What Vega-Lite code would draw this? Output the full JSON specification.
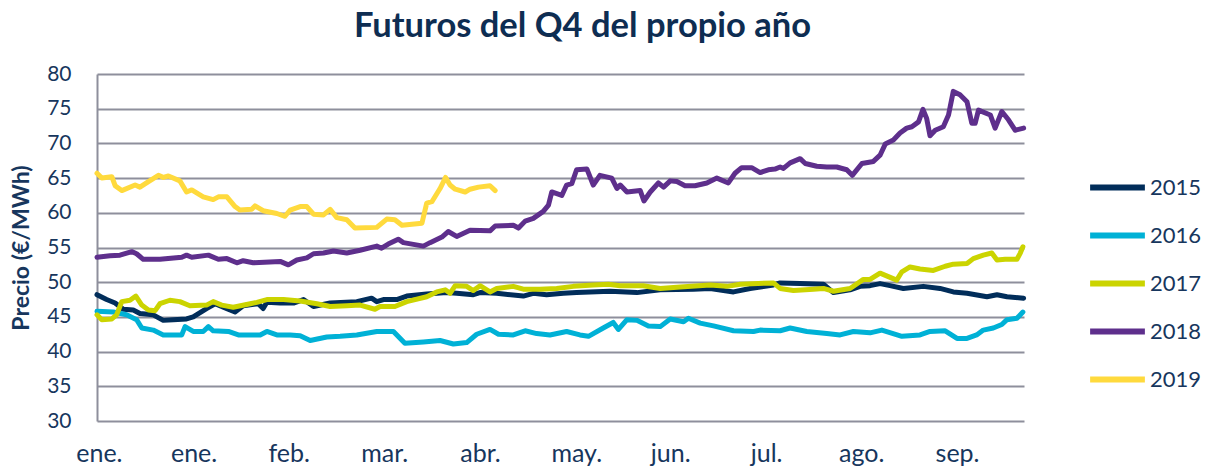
{
  "$schema": "https://vega.github.io/schema/vega-lite/v6.json",
  "autosize": {"type": "none"},
  "padding": {"left": 97, "top": 74, "right": 185, "bottom": 48},
  "width": 927,
  "height": 347,
  "background": "white",
  "title": {"text": "Futuros del Q4 del propio año", "font": "Lato", "fontSize": 34.5, "fontWeight": "bold", "color": "#0E2D52", "anchor": "middle", "offset": 19, "dx": 22},
  "config": {"view": {"stroke": null}},
  "data": {"values": [
    {"year":"2015","t":0,"v":48.2},{"year":"2015","t":2.6,"v":47.5},{"year":"2015","t":4.9,"v":47.0},{"year":"2015","t":7.1,"v":46.1},{"year":"2015","t":9.8,"v":46.0},{"year":"2015","t":11.6,"v":45.5},{"year":"2015","t":15.2,"v":45.3},{"year":"2015","t":17.9,"v":44.5},{"year":"2015","t":20.6,"v":44.6},{"year":"2015","t":24.2,"v":44.7},{"year":"2015","t":26.0,"v":45.0},{"year":"2015","t":29.6,"v":46.2},{"year":"2015","t":31.9,"v":46.9},{"year":"2015","t":35.1,"v":46.2},{"year":"2015","t":37.3,"v":45.7},{"year":"2015","t":39.5,"v":46.6},{"year":"2015","t":43.6,"v":46.9},{"year":"2015","t":44.9,"v":46.2},{"year":"2015","t":45.9,"v":47.1},{"year":"2015","t":49.5,"v":47.0},{"year":"2015","t":53.1,"v":47.0},{"year":"2015","t":55.8,"v":47.5},{"year":"2015","t":58.5,"v":46.5},{"year":"2015","t":63.0,"v":47.0},{"year":"2015","t":70.2,"v":47.2},{"year":"2015","t":74.2,"v":47.7},{"year":"2015","t":75.6,"v":47.2},{"year":"2015","t":77.4,"v":47.5},{"year":"2015","t":81.0,"v":47.5},{"year":"2015","t":83.7,"v":48.0},{"year":"2015","t":89.1,"v":48.3},{"year":"2015","t":94.5,"v":48.5},{"year":"2015","t":97.2,"v":48.4},{"year":"2015","t":101.7,"v":48.2},{"year":"2015","t":103.5,"v":48.5},{"year":"2015","t":108.0,"v":48.4},{"year":"2015","t":115.2,"v":48.0},{"year":"2015","t":117.9,"v":48.4},{"year":"2015","t":121.5,"v":48.2},{"year":"2015","t":126.0,"v":48.4},{"year":"2015","t":129.6,"v":48.5},{"year":"2015","t":138.6,"v":48.7},{"year":"2015","t":145.9,"v":48.5},{"year":"2015","t":152.2,"v":48.9},{"year":"2015","t":161.2,"v":49.0},{"year":"2015","t":165.7,"v":49.1},{"year":"2015","t":172.0,"v":48.6},{"year":"2015","t":176.5,"v":49.1},{"year":"2015","t":182.8,"v":49.6},{"year":"2015","t":184.6,"v":49.9},{"year":"2015","t":190.0,"v":49.8},{"year":"2015","t":196.3,"v":49.7},{"year":"2015","t":199.0,"v":48.5},{"year":"2015","t":203.5,"v":48.9},{"year":"2015","t":206.2,"v":49.4},{"year":"2015","t":208.9,"v":49.5},{"year":"2015","t":211.6,"v":49.8},{"year":"2015","t":214.3,"v":49.5},{"year":"2015","t":217.9,"v":49.1},{"year":"2015","t":223.3,"v":49.4},{"year":"2015","t":227.8,"v":49.1},{"year":"2015","t":231.4,"v":48.6},{"year":"2015","t":235.1,"v":48.4},{"year":"2015","t":240.5,"v":47.9},{"year":"2015","t":243.2,"v":48.2},{"year":"2015","t":245.9,"v":47.9},{"year":"2015","t":250.4,"v":47.7},

    {"year":"2016","t":0,"v":45.8},{"year":"2016","t":4.4,"v":45.7},{"year":"2016","t":8.0,"v":45.3},{"year":"2016","t":10.7,"v":44.6},{"year":"2016","t":12.1,"v":43.4},{"year":"2016","t":15.2,"v":43.1},{"year":"2016","t":17.9,"v":42.4},{"year":"2016","t":22.9,"v":42.4},{"year":"2016","t":23.8,"v":43.6},{"year":"2016","t":26.0,"v":42.9},{"year":"2016","t":28.7,"v":42.9},{"year":"2016","t":30.1,"v":43.6},{"year":"2016","t":31.4,"v":43.0},{"year":"2016","t":35.5,"v":42.9},{"year":"2016","t":38.2,"v":42.4},{"year":"2016","t":44.1,"v":42.4},{"year":"2016","t":45.9,"v":42.9},{"year":"2016","t":48.6,"v":42.4},{"year":"2016","t":52.2,"v":42.4},{"year":"2016","t":54.9,"v":42.3},{"year":"2016","t":57.6,"v":41.6},{"year":"2016","t":62.1,"v":42.1},{"year":"2016","t":65.7,"v":42.2},{"year":"2016","t":70.2,"v":42.4},{"year":"2016","t":75.6,"v":42.9},{"year":"2016","t":80.1,"v":42.9},{"year":"2016","t":83.2,"v":41.2},{"year":"2016","t":88.2,"v":41.4},{"year":"2016","t":92.7,"v":41.6},{"year":"2016","t":96.3,"v":41.1},{"year":"2016","t":99.9,"v":41.3},{"year":"2016","t":102.6,"v":42.5},{"year":"2016","t":106.2,"v":43.2},{"year":"2016","t":108.5,"v":42.5},{"year":"2016","t":112.5,"v":42.4},{"year":"2016","t":115.7,"v":43.0},{"year":"2016","t":118.8,"v":42.6},{"year":"2016","t":122.4,"v":42.4},{"year":"2016","t":126.9,"v":42.9},{"year":"2016","t":130.5,"v":42.4},{"year":"2016","t":132.8,"v":42.2},{"year":"2016","t":136.8,"v":43.4},{"year":"2016","t":139.5,"v":44.2},{"year":"2016","t":140.9,"v":43.2},{"year":"2016","t":143.2,"v":44.6},{"year":"2016","t":145.9,"v":44.5},{"year":"2016","t":149.0,"v":43.7},{"year":"2016","t":152.2,"v":43.6},{"year":"2016","t":154.9,"v":44.7},{"year":"2016","t":158.5,"v":44.3},{"year":"2016","t":159.8,"v":44.8},{"year":"2016","t":163.0,"v":44.1},{"year":"2016","t":166.6,"v":43.7},{"year":"2016","t":172.0,"v":43.0},{"year":"2016","t":177.4,"v":42.9},{"year":"2016","t":179.2,"v":43.1},{"year":"2016","t":184.6,"v":43.0},{"year":"2016","t":187.3,"v":43.4},{"year":"2016","t":191.8,"v":42.9},{"year":"2016","t":197.2,"v":42.6},{"year":"2016","t":200.8,"v":42.4},{"year":"2016","t":204.4,"v":42.9},{"year":"2016","t":208.9,"v":42.7},{"year":"2016","t":212.1,"v":43.1},{"year":"2016","t":217.5,"v":42.2},{"year":"2016","t":222.4,"v":42.4},{"year":"2016","t":225.1,"v":42.9},{"year":"2016","t":229.2,"v":43.0},{"year":"2016","t":232.4,"v":41.9},{"year":"2016","t":235.1,"v":41.9},{"year":"2016","t":237.7,"v":42.4},{"year":"2016","t":239.5,"v":43.1},{"year":"2016","t":242.2,"v":43.4},{"year":"2016","t":244.5,"v":43.9},{"year":"2016","t":245.9,"v":44.6},{"year":"2016","t":248.6,"v":44.8},{"year":"2016","t":250.2,"v":45.7},

    {"year":"2017","t":0,"v":45.3},{"year":"2017","t":1.3,"v":44.6},{"year":"2017","t":4.0,"v":44.7},{"year":"2017","t":5.3,"v":45.3},{"year":"2017","t":6.7,"v":47.2},{"year":"2017","t":8.9,"v":47.4},{"year":"2017","t":10.5,"v":48.0},{"year":"2017","t":12.1,"v":46.7},{"year":"2017","t":13.9,"v":46.0},{"year":"2017","t":15.7,"v":45.9},{"year":"2017","t":17.0,"v":46.9},{"year":"2017","t":19.7,"v":47.4},{"year":"2017","t":22.4,"v":47.2},{"year":"2017","t":25.1,"v":46.6},{"year":"2017","t":29.6,"v":46.7},{"year":"2017","t":31.4,"v":47.2},{"year":"2017","t":33.7,"v":46.7},{"year":"2017","t":36.8,"v":46.4},{"year":"2017","t":41.4,"v":46.9},{"year":"2017","t":43.2,"v":47.1},{"year":"2017","t":45.9,"v":47.5},{"year":"2017","t":50.4,"v":47.5},{"year":"2017","t":54.9,"v":47.3},{"year":"2017","t":59.4,"v":46.9},{"year":"2017","t":63.0,"v":46.5},{"year":"2017","t":67.5,"v":46.6},{"year":"2017","t":71.1,"v":46.7},{"year":"2017","t":75.1,"v":46.1},{"year":"2017","t":76.5,"v":46.5},{"year":"2017","t":80.5,"v":46.5},{"year":"2017","t":83.7,"v":47.2},{"year":"2017","t":89.1,"v":47.9},{"year":"2017","t":91.8,"v":48.6},{"year":"2017","t":94.1,"v":48.9},{"year":"2017","t":95.4,"v":48.4},{"year":"2017","t":96.8,"v":49.5},{"year":"2017","t":99.9,"v":49.4},{"year":"2017","t":101.7,"v":48.8},{"year":"2017","t":103.5,"v":49.5},{"year":"2017","t":106.2,"v":48.6},{"year":"2017","t":108.0,"v":49.1},{"year":"2017","t":112.5,"v":49.4},{"year":"2017","t":115.2,"v":49.0},{"year":"2017","t":119.7,"v":49.0},{"year":"2017","t":124.2,"v":49.1},{"year":"2017","t":128.7,"v":49.4},{"year":"2017","t":134.1,"v":49.6},{"year":"2017","t":138.2,"v":49.7},{"year":"2017","t":141.4,"v":49.5},{"year":"2017","t":147.6,"v":49.5},{"year":"2017","t":152.2,"v":49.1},{"year":"2017","t":157.6,"v":49.3},{"year":"2017","t":165.7,"v":49.6},{"year":"2017","t":170.2,"v":49.4},{"year":"2017","t":173.8,"v":49.7},{"year":"2017","t":182.8,"v":49.9},{"year":"2017","t":184.6,"v":49.1},{"year":"2017","t":188.2,"v":48.8},{"year":"2017","t":193.6,"v":49.0},{"year":"2017","t":196.3,"v":49.1},{"year":"2017","t":199.0,"v":48.7},{"year":"2017","t":203.5,"v":49.1},{"year":"2017","t":207.1,"v":50.4},{"year":"2017","t":208.9,"v":50.4},{"year":"2017","t":211.6,"v":51.3},{"year":"2017","t":216.1,"v":50.3},{"year":"2017","t":217.5,"v":51.5},{"year":"2017","t":219.7,"v":52.2},{"year":"2017","t":222.4,"v":51.9},{"year":"2017","t":226.0,"v":51.7},{"year":"2017","t":229.2,"v":52.3},{"year":"2017","t":231.4,"v":52.6},{"year":"2017","t":235.1,"v":52.7},{"year":"2017","t":236.8,"v":53.4},{"year":"2017","t":239.5,"v":53.9},{"year":"2017","t":241.8,"v":54.2},{"year":"2017","t":243.2,"v":53.2},{"year":"2017","t":245.4,"v":53.3},{"year":"2017","t":248.6,"v":53.3},{"year":"2017","t":249.5,"v":54.2},{"year":"2017","t":250.2,"v":55.1},

    {"year":"2018","t":0,"v":53.6},{"year":"2018","t":3.5,"v":53.8},{"year":"2018","t":6.2,"v":53.9},{"year":"2018","t":9.4,"v":54.4},{"year":"2018","t":10.7,"v":54.1},{"year":"2018","t":12.5,"v":53.3},{"year":"2018","t":17.0,"v":53.3},{"year":"2018","t":22.9,"v":53.6},{"year":"2018","t":24.2,"v":53.9},{"year":"2018","t":25.6,"v":53.6},{"year":"2018","t":30.1,"v":53.9},{"year":"2018","t":32.8,"v":53.3},{"year":"2018","t":35.1,"v":53.4},{"year":"2018","t":37.8,"v":52.8},{"year":"2018","t":39.5,"v":53.1},{"year":"2018","t":42.2,"v":52.8},{"year":"2018","t":49.5,"v":53.0},{"year":"2018","t":51.7,"v":52.5},{"year":"2018","t":54.0,"v":53.2},{"year":"2018","t":56.7,"v":53.5},{"year":"2018","t":58.5,"v":54.1},{"year":"2018","t":61.2,"v":54.2},{"year":"2018","t":63.9,"v":54.5},{"year":"2018","t":67.5,"v":54.2},{"year":"2018","t":71.1,"v":54.6},{"year":"2018","t":75.6,"v":55.2},{"year":"2018","t":76.9,"v":54.9},{"year":"2018","t":78.7,"v":55.5},{"year":"2018","t":81.4,"v":56.2},{"year":"2018","t":82.8,"v":55.7},{"year":"2018","t":88.2,"v":55.2},{"year":"2018","t":90.0,"v":55.7},{"year":"2018","t":93.2,"v":56.5},{"year":"2018","t":94.9,"v":57.3},{"year":"2018","t":97.2,"v":56.6},{"year":"2018","t":100.8,"v":57.5},{"year":"2018","t":106.2,"v":57.4},{"year":"2018","t":107.6,"v":58.1},{"year":"2018","t":112.5,"v":58.2},{"year":"2018","t":113.9,"v":57.8},{"year":"2018","t":115.7,"v":58.8},{"year":"2018","t":117.9,"v":59.2},{"year":"2018","t":120.6,"v":60.2},{"year":"2018","t":122.0,"v":61.1},{"year":"2018","t":122.9,"v":63.0},{"year":"2018","t":125.6,"v":62.5},{"year":"2018","t":126.9,"v":64.0},{"year":"2018","t":128.3,"v":64.2},{"year":"2018","t":129.6,"v":66.2},{"year":"2018","t":132.4,"v":66.3},{"year":"2018","t":134.1,"v":64.0},{"year":"2018","t":135.9,"v":65.4},{"year":"2018","t":139.1,"v":65.0},{"year":"2018","t":140.5,"v":63.5},{"year":"2018","t":141.4,"v":64.0},{"year":"2018","t":143.2,"v":63.0},{"year":"2018","t":146.8,"v":63.2},{"year":"2018","t":147.8,"v":61.7},{"year":"2018","t":149.5,"v":63.0},{"year":"2018","t":151.7,"v":64.3},{"year":"2018","t":153.1,"v":63.7},{"year":"2018","t":154.9,"v":64.6},{"year":"2018","t":156.7,"v":64.5},{"year":"2018","t":158.9,"v":63.9},{"year":"2018","t":161.6,"v":63.9},{"year":"2018","t":164.8,"v":64.3},{"year":"2018","t":167.5,"v":65.0},{"year":"2018","t":170.6,"v":64.3},{"year":"2018","t":172.4,"v":65.7},{"year":"2018","t":174.2,"v":66.5},{"year":"2018","t":176.9,"v":66.5},{"year":"2018","t":179.2,"v":65.8},{"year":"2018","t":181.4,"v":66.2},{"year":"2018","t":183.2,"v":66.3},{"year":"2018","t":184.6,"v":66.6},{"year":"2018","t":185.5,"v":66.4},{"year":"2018","t":187.3,"v":67.2},{"year":"2018","t":190.0,"v":67.8},{"year":"2018","t":191.4,"v":67.1},{"year":"2018","t":194.5,"v":66.7},{"year":"2018","t":197.2,"v":66.6},{"year":"2018","t":199.9,"v":66.6},{"year":"2018","t":202.6,"v":66.2},{"year":"2018","t":204.1,"v":65.4},{"year":"2018","t":206.7,"v":67.1},{"year":"2018","t":209.8,"v":67.4},{"year":"2018","t":211.6,"v":68.3},{"year":"2018","t":213.0,"v":69.9},{"year":"2018","t":215.2,"v":70.5},{"year":"2018","t":217.0,"v":71.5},{"year":"2018","t":218.8,"v":72.2},{"year":"2018","t":220.2,"v":72.4},{"year":"2018","t":222.0,"v":73.1},{"year":"2018","t":223.2,"v":74.9},{"year":"2018","t":224.2,"v":73.6},{"year":"2018","t":225.1,"v":71.1},{"year":"2018","t":226.5,"v":71.9},{"year":"2018","t":228.7,"v":72.4},{"year":"2018","t":230.1,"v":74.1},{"year":"2018","t":231.4,"v":77.5},{"year":"2018","t":233.2,"v":77.0},{"year":"2018","t":235.1,"v":76.0},{"year":"2018","t":236.4,"v":72.9},{"year":"2018","t":237.3,"v":72.9},{"year":"2018","t":238.2,"v":74.8},{"year":"2018","t":241.4,"v":74.1},{"year":"2018","t":242.7,"v":72.2},{"year":"2018","t":244.5,"v":74.6},{"year":"2018","t":246.3,"v":73.4},{"year":"2018","t":248.1,"v":71.9},{"year":"2018","t":250.4,"v":72.2},

    {"year":"2019","t":0,"v":65.7},{"year":"2019","t":1.3,"v":65.0},{"year":"2019","t":4.0,"v":65.2},{"year":"2019","t":4.9,"v":63.9},{"year":"2019","t":6.7,"v":63.2},{"year":"2019","t":10.3,"v":64.0},{"year":"2019","t":11.6,"v":63.7},{"year":"2019","t":13.9,"v":64.5},{"year":"2019","t":16.6,"v":65.4},{"year":"2019","t":17.9,"v":65.1},{"year":"2019","t":19.3,"v":65.3},{"year":"2019","t":22.4,"v":64.6},{"year":"2019","t":24.2,"v":63.0},{"year":"2019","t":25.6,"v":63.3},{"year":"2019","t":28.7,"v":62.3},{"year":"2019","t":31.4,"v":61.9},{"year":"2019","t":32.8,"v":62.3},{"year":"2019","t":35.1,"v":62.3},{"year":"2019","t":37.3,"v":60.9},{"year":"2019","t":38.6,"v":60.4},{"year":"2019","t":41.8,"v":60.5},{"year":"2019","t":42.7,"v":61.0},{"year":"2019","t":44.9,"v":60.3},{"year":"2019","t":48.6,"v":59.9},{"year":"2019","t":50.8,"v":59.5},{"year":"2019","t":52.2,"v":60.4},{"year":"2019","t":54.9,"v":60.9},{"year":"2019","t":56.7,"v":60.9},{"year":"2019","t":58.5,"v":59.8},{"year":"2019","t":61.2,"v":59.7},{"year":"2019","t":63.0,"v":60.5},{"year":"2019","t":64.8,"v":59.3},{"year":"2019","t":67.5,"v":59.0},{"year":"2019","t":69.7,"v":57.8},{"year":"2019","t":75.6,"v":57.9},{"year":"2019","t":78.3,"v":59.1},{"year":"2019","t":80.5,"v":59.0},{"year":"2019","t":82.4,"v":58.2},{"year":"2019","t":87.8,"v":58.5},{"year":"2019","t":89.1,"v":61.4},{"year":"2019","t":90.5,"v":61.6},{"year":"2019","t":92.7,"v":63.5},{"year":"2019","t":94.2,"v":65.1},{"year":"2019","t":95.4,"v":64.0},{"year":"2019","t":96.8,"v":63.4},{"year":"2019","t":99.5,"v":63.0},{"year":"2019","t":100.8,"v":63.4},{"year":"2019","t":103.1,"v":63.7},{"year":"2019","t":106.2,"v":63.9},{"year":"2019","t":107.6,"v":63.2}
  ]},
  "mark": {"type": "line", "strokeWidth": 5, "strokeCap": "round", "strokeJoin": "round"},
  "encoding": {
    "x": {"field": "t", "type": "quantitative", "scale": {"domain": [0, 250.5], "nice": false, "zero": false},
      "axis": {"title": null, "grid": false, "ticks": false, "domain": false, "values": [0.5, 26.1, 51.8, 77.6, 103.5, 129.5, 154.9, 180.8, 206.5, 232.4],
        "labelExpr": "datum.value < 10 ? 'ene.' : datum.value < 40 ? 'ene.' : datum.value < 60 ? 'feb.' : datum.value < 90 ? 'mar.' : datum.value < 115 ? 'abr.' : datum.value < 140 ? 'may.' : datum.value < 170 ? 'jun.' : datum.value < 195 ? 'jul.' : datum.value < 220 ? 'ago.' : 'sep.'",
        "labelFont": "Lato", "labelFontSize": 25, "labelColor": "#17365D", "labelPadding": 20, "labelFlush": false, "labelOverlap": false, "labelBound": false}},
    "y": {"field": "v", "type": "quantitative", "scale": {"domain": [30, 80], "nice": false, "zero": false},
      "axis": {"title": "Precio (€/MWh)", "titleFont": "Lato", "titleFontSize": 23, "titleFontWeight": "bold", "titleColor": "#17365D", "titlePadding": 13,
        "values": [30, 35, 40, 45, 50, 55, 60, 65, 70, 75, 80], "grid": true, "gridColor": "#8E8F9C", "gridWidth": 2, "ticks": false,
        "domain": true, "domainColor": "#8E8F9C", "domainWidth": 2, "labelFont": "Lato", "labelFontSize": 21, "labelColor": "#17365D", "labelPadding": 26}},
    "color": {"field": "year", "type": "nominal",
      "scale": {"domain": ["2015", "2016", "2017", "2018", "2019"], "range": ["#012D5A", "#00B1D6", "#CBD400", "#5E2F8C", "#FFDA3D"]},
      "legend": {"title": null, "orient": "none", "legendX": 990, "legendY": 83, "symbolType": "stroke", "symbolStrokeWidth": 6, "symbolSize": 3000,
        "rowPadding": 5, "labelFont": "Lato", "labelFontSize": 22, "labelColor": "#17365D", "labelOffset": 2, "padding": 0}}
  }
}
